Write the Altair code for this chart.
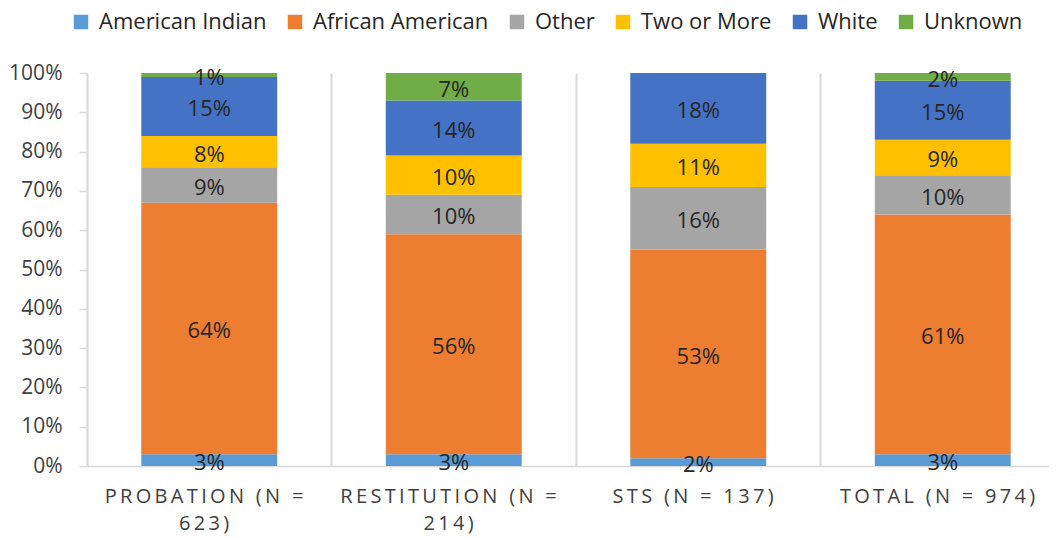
import json
import altair as alt
import pandas as pd

# ---- data ----
categories = ["Probation (N = 623)", "Restitution (N = 214)", "STS (N = 137)", "Total (N = 974)"]
category_lines = [["PROBATION (N =", "623)"], ["RESTITUTION (N =", "214)"], ["STS (N = 137)"], ["TOTAL (N = 974)"]]
races = ["American Indian", "African American", "Other", "Two or More", "White", "Unknown"]
colors = ["#5B9BD5", "#ED7D31", "#A5A5A5", "#FFC000", "#4472C4", "#70AD47"]

american_indian = [0.03, 0.03, 0.02, 0.03]
african_american = [0.64, 0.56, 0.53, 0.61]
other = [0.09, 0.10, 0.16, 0.10]
two_or_more = [0.08, 0.10, 0.11, 0.09]
white = [0.15, 0.14, 0.18, 0.15]
unknown = [0.01, 0.07, 0.00, 0.02]

y_ticks = [0, 0.1, 0.2, 0.3, 0.4, 0.5, 0.6, 0.7, 0.8, 0.9, 1.0]

series = [american_indian, african_american, other, two_or_more, white, unknown]
rows = []
for idx, (race, vals) in enumerate(zip(races, series)):
    for cat, v in zip(categories, vals):
        rows.append({"category": cat, "race": race, "idx": idx, "value": v})
df = pd.DataFrame(rows)

SP = "\u2009"
TRAIL = "\u00a0\u00a0\u2060"  # labels sit slightly left of the bar centre, as in the reference


def spaced(s):
    return SP.join(list(s)) + TRAIL


label_expr = "datum.label"
for cat, lines in reversed(list(zip(categories, category_lines))):
    arr = json.dumps([spaced(l) for l in lines])
    label_expr = f"datum.label == {json.dumps(cat)} ? {arr} : ({label_expr})"

FONT = "Open Sans"

x_axis = alt.Axis(
    title=None,
    labelAngle=0,
    labelExpr=label_expr,
    labelFont=FONT,
    labelFontSize=20,
    labelColor="#404040",
    labelPadding=20,
    labelLineHeight=27,
    labelLimit=0,
    ticks=False,
    domain=True,
    domainColor="#d9d9d9",
    domainWidth=1.5,
    grid=True,
    gridColor="#d9d9d9",
    gridWidth=2,
    bandPosition=0,
)
x_scale = alt.Scale(range=[0, 978], paddingInner=0, paddingOuter=0)

y_axis = alt.Axis(
    title=None,
    values=y_ticks,
    format=".0%",
    labelFont=FONT,
    labelFontSize=21,
    labelColor="#404040",
    labelPadding=17,
    labelOverlap=False,
    domain=True,
    domainColor="#d9d9d9",
    domainWidth=1.5,
    ticks=True,
    tickColor="#d9d9d9",
    tickSize=8,
    tickWidth=1.5,
    grid=False,
)
y_scale = alt.Scale(domain=[0, 1], nice=False)

base = (
    alt.Chart(df)
    .transform_stack(
        stack="value",
        groupby=["category"],
        as_=["y0", "y1"],
        sort=[alt.SortField("idx", order="ascending")],
    )
    .transform_calculate(mid="(datum.y0 + datum.y1) / 2")
)

bars = base.mark_bar(width={"band": 0.556}).encode(
    x=alt.X("category:N", sort=categories, scale=x_scale, axis=x_axis),
    y=alt.Y("y0:Q", scale=y_scale, axis=y_axis),
    y2="y1:Q",
    color=alt.Color(
        "race:N",
        sort=races,
        scale=alt.Scale(domain=races, range=colors),
        legend=alt.Legend(
            title=None,
            orient="none",
            direction="horizontal",
            legendX=-17,
            legendY=-62,
            symbolType="square",
            symbolSize=210,
            symbolStrokeWidth=0,
            labelFont=FONT,
            labelFontSize=22,
            labelColor="#262626",
            labelOffset=7,
            labelLimit=0,
            columnPadding=17,
        ),
    ),
    order=alt.Order("idx:Q", sort="ascending"),
)

text = (
    base.transform_filter("datum.value > 0")
    .mark_text(font=FONT, fontSize=22, color="#262626", baseline="middle", dy=3)
    .encode(
        x=alt.X("category:N", sort=categories, scale=x_scale, axis=x_axis),
        y=alt.Y("mid:Q", scale=y_scale, axis=y_axis),
        text=alt.Text("value:Q", format=".0%"),
    )
)

chart = (
    alt.layer(bars, text)
    .properties(
        width=962,
        height=393,
        autosize=alt.AutoSizeParams(type="none"),
        padding={"left": 79, "top": 65, "right": 0, "bottom": 72},
    )
    .configure_view(stroke=None)
)

chart.save("out.html", embed_options={"renderer": "svg", "actions": False})
